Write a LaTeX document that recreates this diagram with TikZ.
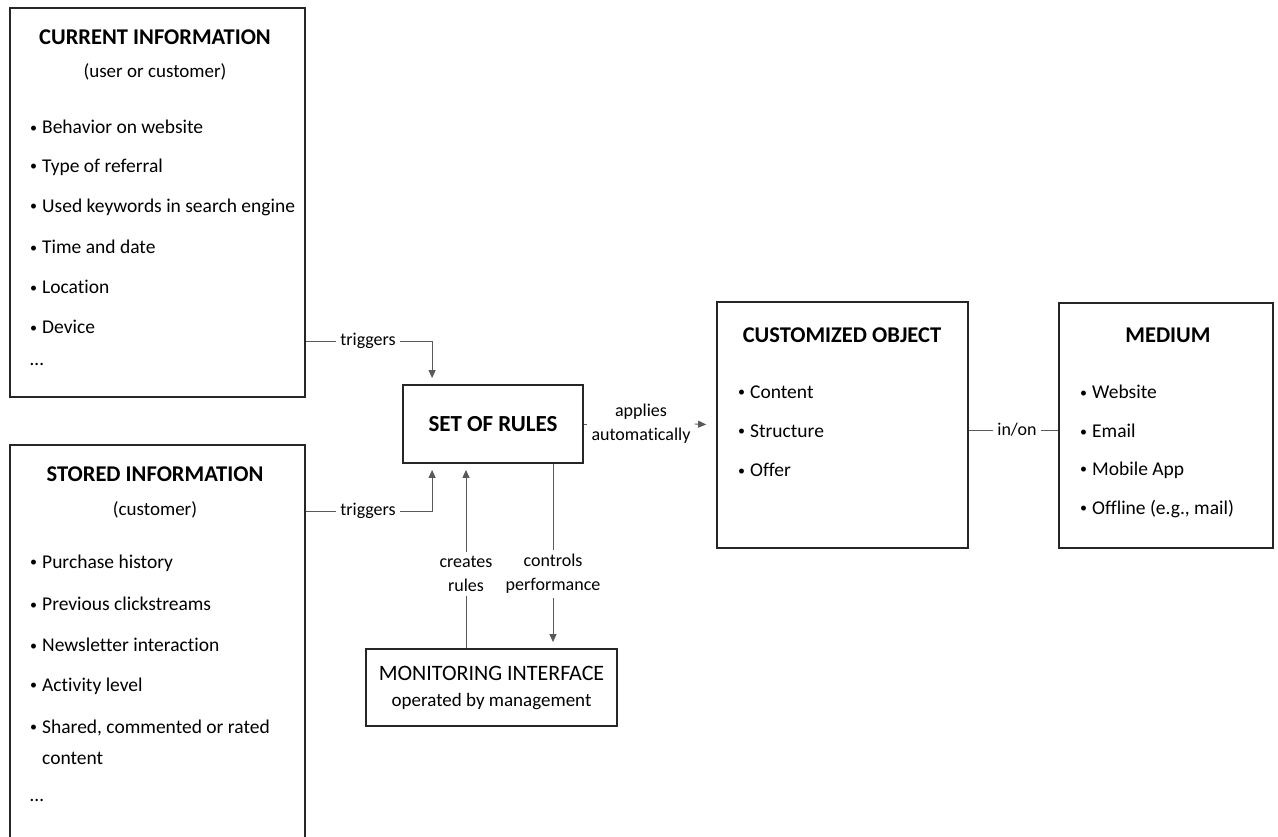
\documentclass[tikz,border=0pt]{standalone}
\usepackage{fontspec}
\setmainfont{Carlito}[RawFeature={-liga}]
\usetikzlibrary{arrows.meta, positioning}
\newcommand{\bul}{\raisebox{1.5pt}{\fontsize{14}{14}\selectfont•}\hspace{5pt}}
\tikzset{
  box/.style   = {draw=black!85, line width=1.8pt, inner sep=0pt},
  conn/.style  = {draw=black!65, line width=0.9pt},
  arr/.style   = {conn, -{Triangle[length=8pt, width=7pt]}, shorten >=6pt},
  ttl/.style   = {font=\fontsize{22.5}{26}\selectfont\bfseries},
  sub/.style   = {font=\fontsize{19}{24}\selectfont},
  item/.style  = {font=\fontsize{19.5}{31}\selectfont, anchor=west, inner sep=0pt, align=left},
  lbl/.style   = {font=\fontsize{18}{24}\selectfont, align=center, inner sep=4pt},
}
\begin{document}
\begin{tikzpicture}[x=1pt, y=-1pt]
  \useasboundingbox (0,0) rectangle (1278,836);
  % input boxes
  \node[box, minimum width=295pt, minimum height=389pt] (cur) at (157.5,202.5) {};
  \begin{scope}
    \clip (0,0) rectangle (1278,836);
    \node[box, minimum width=295pt, minimum height=425pt] (sto) at (157.5,657.5) {};
  \end{scope}
  \node[ttl] (curttl) at (155,37) {CURRENT INFORMATION};
  \node[sub] (cursub) at (155,72) {(user or customer)};
  \foreach \t [count=\i] in {Behavior on website, Type of referral,
      Used keywords in search engine, Time and date, Location, Device}
    \node[item] (cur\i) at (30,87+40*\i) {\bul\t};
  \node[item] (curmore) at (30,364) {…};
  \node[ttl] (stottl) at (155,474) {STORED INFORMATION};
  \node[sub] (stosub) at (155,510) {(customer)};
  \foreach \t [count=\i] in {Purchase history, Previous clickstreams,
      Newsletter interaction, Activity level}
    \node[item] (sto\i) at (30,522+41*\i) {\bul\t};
  \node[item] (sto5) at (30,742) {\bul Shared, commented or rated\\\hphantom{\bul}content};
  \node[item] (stomore) at (30,800) {…};
  % rules and monitoring
  \node[box, minimum width=180pt, minimum height=78pt, ttl, font=\fontsize{23}{26}\selectfont\bfseries]
    (rules) at (493,424) {SET OF RULES};
  \node[box, minimum width=251pt, minimum height=77pt, align=center,
        font=\fontsize{19}{30}\selectfont] (mon) at (491.5,687.5)
    {\raisebox{-4pt}{\fontsize{22}{30}\selectfont MONITORING INTERFACE}\\operated by management};
  % output boxes
  \node[box, minimum width=251pt, minimum height=246pt] (cust) at (842.5,425) {};
  \node[ttl] (custttl) at (842,335) {CUSTOMIZED OBJECT};
  \foreach \t [count=\i] in {Content, Structure, Offer}
    \node[item] (cust\i) at (738,353+39*\i) {\bul\t};
  \node[box, minimum width=214pt, minimum height=245pt] (med) at (1166,425.5) {};
  \node[ttl] (medttl) at (1168,335) {MEDIUM};
  \foreach \t [count=\i] in {Website, Email, Mobile App, {Offline (e.g., mail)}}
    \node[item] (med\i) at (1080,353+39*\i) {\bul\t};
  % connectors
  \coordinate (rtop) at ([xshift=30pt]rules.north west);
  \coordinate (rbot) at ([xshift=30pt]rules.south west);
  \node[lbl] (trig1) at (368,341) {triggers};
  \draw[conn] (cur.east |- trig1) -- (trig1);
  \draw[arr] (trig1) -| (rtop);
  \node[lbl] (trig2) at (368,511) {triggers};
  \draw[conn] (sto.east |- trig2) -- (trig2);
  \draw[arr] (trig2) -| (rbot);
  \node[lbl] (creates) at (466,574) {creates\\rules};
  \draw[conn] (mon.north -| creates) -- (creates);
  \draw[arr] (creates) -- (rules.south -| creates);
  \node[lbl] (controls) at (553,574) {controls\\performance};
  \draw[conn] (rules.south -| controls) -- (controls);
  \draw[arr] (controls) -- (mon.north -| controls);
  \node[lbl] (apply) at (641,424) {applies\\automatically};
  \draw[conn] (rules.east) -- (apply.west);
  \draw[arr, shorten >=10pt] (apply.east) -- (cust.west);
  \node[lbl] (inon) at (1017,430) {in/on};
  \draw[conn] (cust.east |- inon) -- (inon);
  \draw[conn] (inon) -- (med.west |- inon);
\end{tikzpicture}
\end{document}
